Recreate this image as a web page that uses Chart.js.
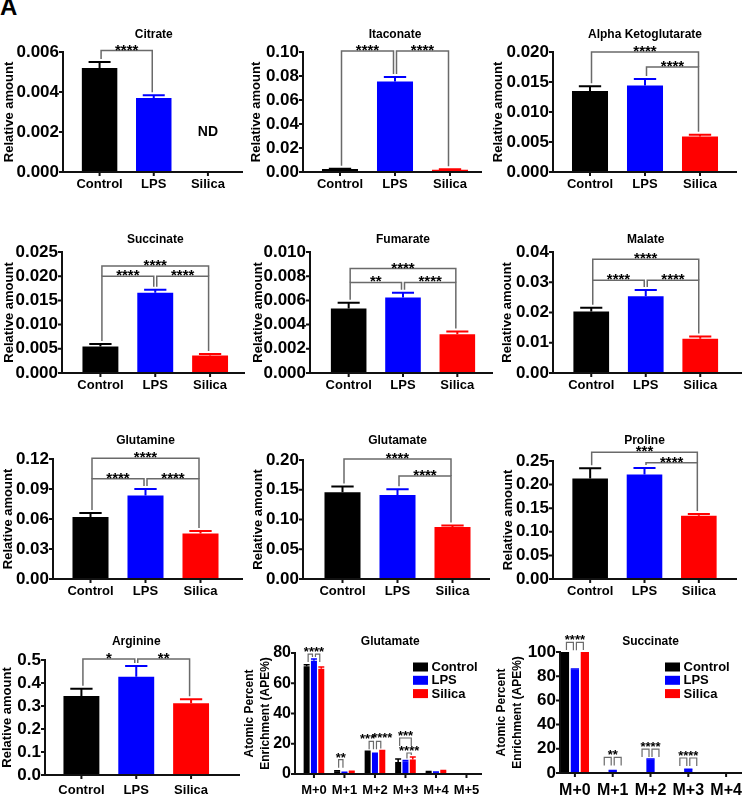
<!DOCTYPE html>
<html><head><meta charset="utf-8">
<script src="https://cdn.jsdelivr.net/npm/chart.js@4.4.0/dist/chart.umd.min.js"></script>
<style>
html,body{margin:0;padding:0;background:#fff;width:742px;height:797px;overflow:hidden;position:relative;}
canvas{position:absolute;}
#lab{position:absolute;left:0;top:-7px;font:bold 24px "Liberation Sans",Arial,sans-serif;color:#000;}
</style></head><body>
<div id="lab">A</div>
<script>
// ---------------- DATA ----------------
const groups = ['Control', 'LPS', 'Silica'];
const isoGlu = ['M+0', 'M+1', 'M+2', 'M+3', 'M+4', 'M+5'];
const isoSuc = ['M+0', 'M+1', 'M+2', 'M+3', 'M+4'];

const citrateTicks = ['0.000', '0.002', '0.004', '0.006'];
const citrateMean = [0.00520, 0.00370, null];
const citrateSem = [0.00030, 0.00014, null];
const citrateNote = ['', '', 'ND'];
const citrateSig = [[0, 1, 0.00607, '****']];

const itaconateTicks = ['0.00', '0.02', '0.04', '0.06', '0.08', '0.10'];
const itaconateMean = [0.0024, 0.0755, 0.0019];
const itaconateSem = [0.0004, 0.0037, 0.0004];
const itaconateSig = [[0, 1, 0.1008, '****'], [1, 2, 0.1008, '****']];

const akgTicks = ['0.000', '0.005', '0.010', '0.015', '0.020'];
const akgMean = [0.0135, 0.0144, 0.0059];
const akgSem = [0.0008, 0.0011, 0.0003];
const akgSig = [[0, 2, 0.0200, '****'], [1, 2, 0.0175, '****']];

const succinateTicks = ['0.000', '0.005', '0.010', '0.015', '0.020', '0.025'];
const succinateMean = [0.0055, 0.0166, 0.0036];
const succinateSem = [0.0005, 0.0006, 0.0003];
const succinateSig = [[0, 1, 0.0200, '****'], [1, 2, 0.0200, '****'], [0, 2, 0.0221, '****']];

const fumarateTicks = ['0.000', '0.002', '0.004', '0.006', '0.008', '0.010'];
const fumarateMean = [0.00534, 0.00625, 0.00320];
const fumarateSem = [0.00047, 0.00038, 0.00022];
const fumarateSig = [[0, 1, 0.00748, '**'], [1, 2, 0.00748, '****'], [0, 2, 0.00863, '****']];

const malateTicks = ['0.00', '0.01', '0.02', '0.03', '0.04'];
const malateMean = [0.0203, 0.0254, 0.0113];
const malateSem = [0.0013, 0.0020, 0.0008];
const malateSig = [[0, 1, 0.0307, '****'], [1, 2, 0.0307, '****'], [0, 2, 0.0376, '****']];

const glutamineTicks = ['0.00', '0.03', '0.06', '0.09', '0.12'];
const glutamineMean = [0.0621, 0.0836, 0.0456];
const glutamineSem = [0.0040, 0.0063, 0.0023];
const glutamineSig = [[0, 1, 0.1002, '****'], [1, 2, 0.1002, '****'], [0, 2, 0.1207, '****']];

const glutamateTicks = ['0.00', '0.05', '0.10', '0.15', '0.20'];
const glutamateMean = [0.1458, 0.1413, 0.0872];
const glutamateSem = [0.0095, 0.0095, 0.0028];
const glutamateSig = [[1, 2, 0.1732, '****'], [0, 2, 0.2017, '****']];

const prolineTicks = ['0.00', '0.05', '0.10', '0.15', '0.20', '0.25'];
const prolineMean = [0.2130, 0.2214, 0.1340];
const prolineSem = [0.0216, 0.0139, 0.0036];
const prolineSig = [[1, 2, 0.2465, '****'], [0, 2, 0.2688, '***']];

const arginineTicks = ['0.0', '0.1', '0.2', '0.3', '0.4', '0.5'];
const arginineMean = [0.3435, 0.4275, 0.3116];
const arginineSem = [0.0320, 0.0464, 0.0174];
const arginineSig = [[0, 1, 0.5043, '*'], [1, 2, 0.5043, '**']];

const gluIsoTicks = ['0', '20', '40', '60', '80'];
const gluIsoControl = [71.2, 1.8, 14.6, 8.0, 1.3, 0];
const gluIsoLps = [74.9, 0.9, 13.3, 8.4, 1.1, 0.3];
const gluIsoSilica = [69.6, 1.5, 15.3, 9.6, 2.0, 0];
const gluIsoControlSem = [1.1, 0.3, 0.4, 2.0, 0.3, 0];
const gluIsoLpsSem = [1.1, 0.2, 0.4, 0.6, 0.3, 0];
const gluIsoSilicaSem = [1.1, 0.3, 0.3, 1.7, 0.3, 0];
// [group, fromSeries, toSeries, y, text, drawLine]
const gluIsoSig = [
  [0, 0, 1, 79.3, '', true], [0, 1, 2, 79.3, '', true], [0, 0, 2, 79.3, '****', false],
  [1, 0, 1, 9.5, '**', true],
  [2, 0, 1, 21.6, '', true], [2, 1, 2, 21.6, '', true], [2, 0, 0, 21.6, '***', false], [2, 2, 2, 22.6, '****', false],
  [3, 1, 2, 13.9, '****', true], [3, 0, 2, 23.8, '***', true]
];

const sucIsoTicks = ['0', '20', '40', '60', '80', '100'];
const sucIsoControl = [100, 0, 0, 0, 0];
const sucIsoLps = [85.5, 1.9, 11.2, 2.8, 0.6];
const sucIsoSilica = [100, 0, 0, 0, 0];
const sucIsoControlSem = [0, 0, 0, 0, 0];
const sucIsoLpsSem = [0.4, 0.2, 0.4, 0.2, 0];
const sucIsoSilicaSem = [0, 0, 0, 0, 0];
const sucIsoSig = [
  [0, 0, 1, 108, '', true], [0, 1, 2, 108, '', true], [0, 0, 2, 108, '****', false],
  [1, 0, 1, 12.9, '', true], [1, 1, 2, 12.9, '', true], [1, 0, 2, 12.9, '**', false],
  [2, 0, 1, 19.8, '', true], [2, 1, 2, 19.8, '', true], [2, 0, 2, 19.8, '****', false],
  [3, 0, 1, 12.4, '', true], [3, 1, 2, 12.4, '', true], [3, 0, 2, 12.4, '****', false]
];

// ---------------- STYLE / LAYOUT ----------------
const FONT = '"Liberation Sans", Arial, Helvetica, sans-serif';
const COLORS = ['#000000', '#0000ff', '#ff0000'];

const simple = (title, ticks, mean, sem, sig, box, note) => ({iso: false, title, ticks, labels: groups,
  datasets: [{data: mean, errors: sem, backgroundColor: COLORS, barPercentage: 0.655, categoryPercentage: 1}],
  sig, box, note, yTitle: 'Relative amount', yTitleSize: 13, yTitleLH: 1.2, tickSize: 17, xSize: 13, titleSize: 12,
  starSize: 15, starDy: 4, gap: 3, legMax: 0});

const iso = (title, ticks, labels, series, sems, sig, box, tickSize, xSize, catPct, barPct) => ({iso: true, title, ticks, labels,
  datasets: series.map((d, i) => ({label: groups[i], data: d, errors: sems[i], backgroundColor: COLORS[i], barPercentage: barPct, categoryPercentage: catPct})),
  sig, box, yTitle: ['Atomic Percent', 'Enrichment (APE%)'], yTitleSize: 12, yTitleLH: 1.34, tickSize, xSize, titleSize: 12,
  starSize: 13, starDy: 2, gap: 2, legMax: 8});

const panels = [
  simple('Citrate', citrateTicks, citrateMean, citrateSem, citrateSig,
    {axisX: 63, L: 72.5, R: 235, T: 52, B: 172, end: 243, titleY: 35, yTitleX: 9, labelOff: 12}, citrateNote),
  simple('Itaconate', itaconateTicks, itaconateMean, itaconateSem, itaconateSig,
    {axisX: 303, L: 312.5, R: 477.5, T: 52, B: 172, end: 482, titleY: 35, yTitleX: 256, labelOff: 12}),
  simple('Alpha Ketoglutarate', akgTicks, akgMean, akgSem, akgSig,
    {axisX: 553, L: 562.5, R: 727.5, T: 52, B: 172, end: 737, titleY: 35, yTitleX: 498, labelOff: 12}),
  simple('Succinate', succinateTicks, succinateMean, succinateSem, succinateSig,
    {axisX: 62, L: 73, R: 237.5, T: 252, B: 373, end: 245, titleY: 240, yTitleX: 9.5, labelOff: 12}),
  simple('Fumarate', fumarateTicks, fumarateMean, fumarateSem, fumarateSig,
    {axisX: 310, L: 321.5, R: 484.5, T: 252, B: 373, end: 493, titleY: 240, yTitleX: 258, labelOff: 12}),
  simple('Malate', malateTicks, malateMean, malateSem, malateSig,
    {axisX: 553, L: 564, R: 727.5, T: 252, B: 373, end: 742, titleY: 240, yTitleX: 507, labelOff: 12}),
  simple('Glutamine', glutamineTicks, glutamineMean, glutamineSem, glutamineSig,
    {axisX: 53, L: 63, R: 228, T: 459, B: 579, end: 243, titleY: 441, yTitleX: 8, labelOff: 12}),
  simple('Glutamate', glutamateTicks, glutamateMean, glutamateSem, glutamateSig,
    {axisX: 303, L: 315, R: 480, T: 460, B: 579, end: 490, titleY: 441, yTitleX: 258, labelOff: 12}),
  simple('Proline', prolineTicks, prolineMean, prolineSem, prolineSig,
    {axisX: 553, L: 563, R: 726, T: 461, B: 579, end: 737, titleY: 441, yTitleX: 508, labelOff: 12}),
  simple('Arginine', arginineTicks, arginineMean, arginineSem, arginineSig,
    {axisX: 45, L: 54, R: 218.5, T: 660, B: 775, end: 240, titleY: 642, yTitleX: 7, labelOff: 15}),
  iso('Glutamate', gluIsoTicks, isoGlu, [gluIsoControl, gluIsoLps, gluIsoSilica],
    [gluIsoControlSem, gluIsoLpsSem, gluIsoSilicaSem], gluIsoSig,
    {axisX: 295, L: 298.7, R: 482, T: 653, B: 774, end: 482, titleY: 642, yTitleX: 250, labelOff: 16, legX: 413, legY: 667, legText: 13},
    16, 13, 0.72, 0.82),
  iso('Succinate', sucIsoTicks, isoSuc, [sucIsoControl, sucIsoLps, sucIsoSilica],
    [sucIsoControlSem, sucIsoLpsSem, sucIsoSilicaSem], sucIsoSig,
    {axisX: 560, L: 556, R: 745, T: 652, B: 773, end: 742, titleY: 642, yTitleX: 502, labelOff: 18, legX: 665, legY: 667, legText: 13},
    17, 16, 0.79, 0.83)
];

function overlay(p) {
  return {
    id: 'overlay',
    afterDatasetsDraw(chart) {
      const ctx = chart.ctx, ys = chart.scales.y, xs = chart.scales.x, b = p.box, ca = chart.chartArea;
      const ax = b.axisX - p.cx, endX = b.end - p.cx;
      const y0 = ys.getPixelForValue(ys.min), yTop = ys.getPixelForValue(ys.max);
      const dsets = chart.data.datasets;
      const errTop = (di, i) => {
        const d = dsets[di], v = d.data[i];
        if (v == null) return y0;
        return ys.getPixelForValue(v + (d.errors ? (d.errors[i] || 0) : 0));
      };
      const barX = (di, i) => chart.getDatasetMeta(di).data[i].x;
      ctx.save();
      // error bars (mean + SEM)
      dsets.forEach((d, di) => {
        chart.getDatasetMeta(di).data.forEach((el, i) => {
          const v = d.data[i], e = d.errors ? d.errors[i] : 0;
          if (v == null || !e) return;
          const col = Array.isArray(d.backgroundColor) ? d.backgroundColor[i] : d.backgroundColor;
          const top = ys.getPixelForValue(v + e);
          const half = p.iso ? el.width / 2 : el.width * 0.31;
          ctx.strokeStyle = col; ctx.lineWidth = p.iso ? 1.5 : 2;
          ctx.beginPath();
          ctx.moveTo(el.x, el.y); ctx.lineTo(el.x, top);
          ctx.moveTo(el.x - half, top); ctx.lineTo(el.x + half, top);
          ctx.stroke();
        });
      });
      // axes
      ctx.strokeStyle = '#111'; ctx.lineWidth = 2;
      ctx.beginPath();
      ctx.moveTo(ax, yTop - 1); ctx.lineTo(ax, y0 + 1);
      ctx.moveTo(ax - 1, y0); ctx.lineTo(endX, y0);
      ys.ticks.forEach(t => { const py = ys.getPixelForValue(t.value); ctx.moveTo(ax - 4, py); ctx.lineTo(ax, py); });
      chart.data.labels.forEach((l, i) => { const px = xs.getPixelForValue(i); ctx.moveTo(px, y0); ctx.lineTo(px, y0 + 4); });
      ctx.stroke();
      // significance brackets
      const norm = (p.sig || []).map(s => p.iso
        ? {g: s[0], a: s[1], b: s[2], y: s[3], t: s[4], line: s[5] !== false}
        : {g: 0, a: s[0], b: s[1], y: s[2], t: s[3], line: true});
      const pos = (s, k) => p.iso ? barX(k, s.g) : barX(0, k);
      const eTop = (s, k) => p.iso ? errTop(k, s.g) : errTop(0, k);
      ctx.strokeStyle = '#6a6a6a'; ctx.lineWidth = p.iso ? 1.2 : 1.5;
      ctx.fillStyle = '#000';
      ctx.font = `bold ${p.starSize}px ${FONT}`; ctx.textAlign = 'center'; ctx.textBaseline = 'alphabetic';
      norm.forEach(s => {
        const py = ys.getPixelForValue(s.y);
        if (s.line) {
          const xa = pos(s, s.a) + 1.5, xb = pos(s, s.b) - 1.5;
          const legEnd = k => {
            let bottom = eTop(s, k) - p.gap;
            norm.forEach(o => {
              if (o === s || !o.line || o.g !== s.g) return;
              const po = ys.getPixelForValue(o.y);
              if (po > py + 0.5 && k >= o.a && k <= o.b) bottom = Math.min(bottom, po);
            });
            if (p.legMax) bottom = Math.min(bottom, py + p.legMax);
            return Math.max(bottom, py);
          };
          ctx.beginPath();
          ctx.moveTo(xa, legEnd(s.a)); ctx.lineTo(xa, py); ctx.lineTo(xb, py); ctx.lineTo(xb, legEnd(s.b));
          ctx.stroke();
        }
        if (s.t) ctx.fillText(s.t, (pos(s, s.a) + pos(s, s.b)) / 2, py + p.starDy);
      });
      // notes (ND)
      if (p.note) {
        ctx.font = `bold 14px ${FONT}`; ctx.textBaseline = 'middle';
        p.note.forEach((n, i) => { if (n) ctx.fillText(n, xs.getPixelForValue(i), y0 - 40); });
      }
      // title
      ctx.font = `bold ${p.titleSize}px ${FONT}`; ctx.textAlign = 'center'; ctx.textBaseline = 'middle';
      ctx.fillText(p.title, (ca.left + ca.right) / 2, b.titleY - p.cy);
      // legend
      if (p.iso) {
        ctx.textAlign = 'left'; ctx.font = `bold ${b.legText}px ${FONT}`;
        dsets.forEach((d, i) => {
          const cy = b.legY - p.cy + i * 13.3, lx = b.legX - p.cx;
          ctx.fillStyle = d.backgroundColor; ctx.fillRect(lx, cy - 4.5, 15, 9);
          ctx.fillStyle = '#000'; ctx.fillText(d.label, lx + 18.5, cy + 0.5);
        });
      }
      ctx.restore();
    }
  };
}

panels.forEach(p => {
  const b = p.box;
  const lh = p.yTitleSize * p.yTitleLH;
  p.cx = Math.round(b.yTitleX - lh / 2 - 2);
  p.cy = Math.round(b.T - 48);
  const right = Math.max(b.R, b.end) + 6;
  const cw = Math.ceil(right - p.cx);
  const ch = Math.ceil(b.B + 30 - p.cy);
  const c = document.createElement('canvas');
  c.width = cw; c.height = ch;
  c.style.left = p.cx + 'px'; c.style.top = p.cy + 'px';
  c.style.width = cw + 'px'; c.style.height = ch + 'px';
  document.body.appendChild(c);
  const tickVals = p.ticks.map(parseFloat);
  const xLH = p.xSize * 1.2;
  new Chart(c, {
    type: 'bar',
    data: {labels: p.labels, datasets: p.datasets},
    options: {
      responsive: false, animation: false, devicePixelRatio: 1,
      layout: {padding: {left: 0, top: b.T - p.cy, right: cw - (b.R - p.cx), bottom: 0}},
      plugins: {legend: {display: false}, tooltip: {enabled: false}, title: {display: false}},
      scales: {
        x: {
          type: 'category', offset: true,
          grid: {display: false, drawTicks: false}, border: {display: false},
          ticks: {font: {family: FONT, size: p.xSize, weight: 'bold'}, color: '#000',
                  padding: b.labelOff - xLH / 2, autoSkip: false, maxRotation: 0, minRotation: 0},
          afterFit: s => { s.height = ch - (b.B - p.cy); }
        },
        y: {
          type: 'linear', min: tickVals[0], max: tickVals[tickVals.length - 1],
          grid: {display: false, drawTicks: false}, border: {display: false},
          ticks: {font: {family: FONT, size: p.tickSize, weight: 'bold'}, color: '#000', autoSkip: false,
                  padding: b.L - b.axisX + 4, callback: (v, i) => p.ticks[i]},
          afterBuildTicks: s => { s.ticks = tickVals.map(v => ({value: v})); },
          afterFit: s => { s.width = b.L - p.cx; },
          title: {display: true, text: p.yTitle, color: '#000',
                  font: {family: FONT, size: p.yTitleSize, weight: 'bold', lineHeight: p.yTitleLH},
                  padding: {top: b.yTitleX - p.cx - lh / 2, bottom: 0}}
        }
      }
    },
    plugins: [overlay(p)]
  });
});
</script>
</body></html>
